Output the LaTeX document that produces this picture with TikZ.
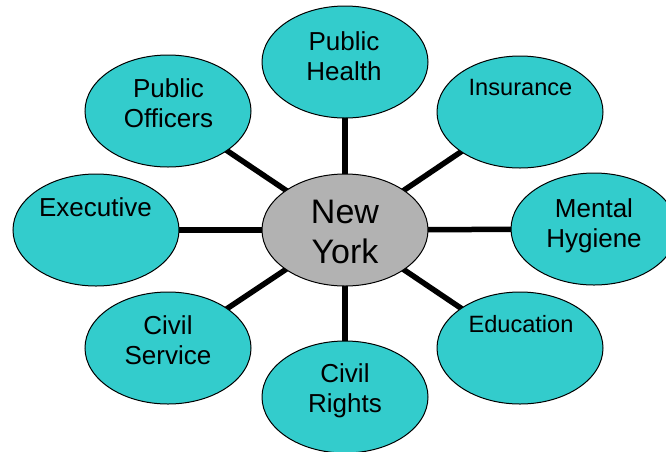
\documentclass[tikz,border=0pt]{standalone}
\usepackage{fontspec}
\setmainfont{Liberation Sans}
\usetikzlibrary{shapes.geometric,backgrounds}
\definecolor{tealfill}{RGB}{51,204,204}
\definecolor{hubfill}{RGB}{178,178,178}
\begin{document}
\begin{tikzpicture}[x=1pt,y=-1pt,
  sat/.style={ellipse,draw=black,line width=1pt,fill=tealfill,minimum width=166pt,minimum height=112pt,inner sep=0pt},
  hub/.style={sat,fill=hubfill},
  lbl/.style={font=\fontsize{26}{30}\selectfont,align=center,anchor=base,inner sep=0pt},
  slbl/.style={lbl,font=\fontsize{23.6}{27}\selectfont},
  hlbl/.style={lbl,font=\fontsize{34}{40}\selectfont},
  spoke/.style={line width=5.5pt,black}]
\useasboundingbox (0,0) rectangle (666,451);
\clip (0,0) rectangle (666,451);
\node[hub] (ny) at (345,230) {};
\node[sat] (ph) at (345,62) {};
\node[sat] (po) at (168,111) {};
\node[sat] (ins) at (520,112) {};
\node[sat] (ex) at (96,230) {};
\node[sat] (mh) at (594,229) {};
\node[sat] (cs) at (168,348) {};
\node[sat] (ed) at (520,348) {};
\node[sat] (cr) at (345,397) {};
\begin{scope}[on background layer]
\foreach \s in {ph,po,ins,ex,mh,cs,ed,cr}
  \draw[spoke] (ny.center) -- (\s.center);
\end{scope}
\node[hlbl] (nyt) at (345,263) {New\\York};
\node[lbl] (pht) at (344,80) {Public\\Health};
\node[lbl] (pot) at (168.5,127) {Public\\Officers};
\node[slbl] (inst) at (520.5,95) {Insurance};
\node[lbl] (ext) at (95.5,216) {Executive};
\node[lbl] (mht) at (594,247) {Mental\\Hygiene};
\node[lbl] (cst) at (168,364) {Civil\\Service};
\node[slbl] (edt) at (521,332) {Education};
\node[lbl] (crt) at (345,412) {Civil\\Rights};
\end{tikzpicture}
\end{document}
